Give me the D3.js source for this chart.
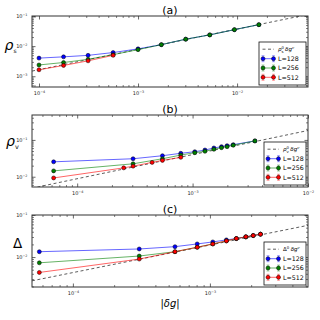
<!DOCTYPE html>
<html>
<head>
<meta charset="utf-8">
<script src="https://cdn.jsdelivr.net/npm/d3@7"></script>
<style>
  body { margin: 0; background: #fff; }
  svg { display: block; font-family: "DejaVu Sans", sans-serif; }
</style>
</head>
<body>
<div id="chart"></div>
<script>
// ---- data ----
// (a) superfluid density rho_s vs |dg|
var xA = [1.0e-4, 1.77e-4, 3.13e-4, 5.6e-4, 1.0e-3, 1.72e-3, 3.03e-3, 5.3e-3, 9.4e-3, 1.66e-2];
var rhoS128 = [4.0e-3, 4.41e-3, 4.94e-3, 6.12e-3, 8.11e-3, 1.12e-2, 1.70e-2, 2.36e-2, 3.52e-2, 5.15e-2];
var rhoS256 = [2.37e-3, 2.86e-3, 3.65e-3, 5.21e-3, 7.64e-3, 1.12e-2, 1.70e-2, 2.36e-2, 3.52e-2, 5.15e-2];
var rhoS512 = [1.64e-3, 2.28e-3, 3.25e-3, 4.94e-3];
var fitA = { amp: 0.823, nu: 0.674 };

// (b) rho_v vs |dg|
var xB = [6.25e-5, 3.05e-4, 5.48e-4, 7.9e-4, 1.045e-3, 1.28e-3, 1.53e-3, 1.78e-3, 1.99e-3, 2.25e-3, 3.47e-3];
var xBred = [6.25e-5, 2.53e-4, 3.05e-4, 4.46e-4, 5.48e-4, 7.9e-4];
var rhoV128 = [0.0254, 0.0308, 0.0372, 0.0433, 0.0478, 0.0532, 0.0604, 0.0655, 0.0698, 0.0743, 0.094];
var rhoV256 = [0.01442, 0.02244, 0.0308, 0.0388, 0.0449, 0.0490, 0.0556, 0.0615, 0.0655, 0.0716, 0.094];
var rhoV512 = [0.00927, 0.0174, 0.0194, 0.0245, 0.0278, 0.0336];
var fitB = { amp: 3.68, nu: 0.655 };

// (c) gap Delta vs |dg|
var xC = [5.69e-5, 3.05e-4, 5.56e-4, 8.08e-4, 1.05e-3, 1.32e-3, 1.56e-3, 1.83e-3, 2.07e-3, 2.34e-3];
var delta128 = [0.0134, 0.01556, 0.01766, 0.0205, 0.0229, 0.0256, 0.0275, 0.0302, 0.0324, 0.0350];
var delta256 = [0.0073, 0.01057, 0.0134, 0.0171, 0.0205, 0.0242, 0.0275, 0.0302, 0.0324, 0.0350];
var delta512 = [0.0043, 0.00895, 0.0134, 0.0171, 0.0205, 0.0242, 0.0275, 0.0302, 0.0324, 0.0350];
var fitC = { amp: 1.78, nu: 0.655 };

var seriesNames = ["L=128", "L=256", "L=512"];
var seriesColors = ["#0000ff", "#008000", "#ff0000"];

var plotLeft = 32, plotRight = 308;

var svg = d3.select("#chart")
    .append("svg")
    .attr("width", 320)
    .attr("height", 320);

function supLabel(sel) {
    // turn "10" tick text into 10^{n}
    sel.each(function (d) {
        d3.select(this).append("tspan")
            .attr("dy", -2)
            .attr("font-size", 3.4)
            .text("\u2212" + Math.abs(Math.round(Math.log10(d))));
    });
}

function drawPanel(p) {
    var x = d3.scaleLog().domain(p.xDomain).range([plotLeft, plotRight]);
    var y = d3.scaleLog().domain(p.yDomain).range([p.bottom, p.top]);
    var g = svg.append("g");

    svg.append("clipPath").attr("id", "clip" + p.id)
        .append("rect")
        .attr("x", plotLeft).attr("y", p.top)
        .attr("width", plotRight - plotLeft).attr("height", p.bottom - p.top);

    var minorX = x.ticks().filter(function (v) { return p.xTicks.indexOf(v) < 0; });
    var minorY = y.ticks().filter(function (v) { return p.yTicks.indexOf(v) < 0; });

    // ticks on all four sides, pointing inward
    var axes = [
        [d3.axisBottom(x), "translate(0," + p.bottom + ")", minorX, p.xTicks, true],
        [d3.axisTop(x), "translate(0," + p.top + ")", minorX, p.xTicks, false],
        [d3.axisLeft(y), "translate(" + plotLeft + ",0)", minorY, p.yTicks, true],
        [d3.axisRight(y), "translate(" + plotRight + ",0)", minorY, p.yTicks, false]
    ];
    axes.forEach(function (a) {
        g.append("g").attr("transform", a[1])
            .call(a[0].tickValues(a[2]).tickSize(-2).tickFormat(""))
            .call(function (s) { s.select(".domain").remove(); s.selectAll("text").remove(); })
            .selectAll("line").attr("stroke", "#000").attr("stroke-width", 0.5);
        var major = g.append("g").attr("transform", a[1])
            .call(a[0].tickValues(a[3]).tickSize(-3.5).tickPadding(a[4] ? 4.5 : 0)
                .tickFormat(function () { return a[4] ? "10" : ""; }))
            .attr("font-family", "DejaVu Sans")
            .attr("font-size", 5);
        major.select(".domain").remove();
        major.selectAll("line").attr("stroke", "#000").attr("stroke-width", 0.6);
        if (a[4]) major.selectAll("text").attr("fill", "#222").call(supLabel);
        else major.selectAll("text").remove();
    });

    // fit line
    var fitPts = p.xDomain.map(function (v) { return [v, p.fit.amp * Math.pow(v, p.fit.nu)]; });
    var line = d3.line()
        .x(function (d) { return x(d[0]); })
        .y(function (d) { return y(d[1]); });
    g.append("path").datum(fitPts)
        .attr("clip-path", "url(#clip" + p.id + ")")
        .attr("fill", "none")
        .attr("stroke", "#333")
        .attr("stroke-width", 0.8)
        .attr("stroke-dasharray", "3,2.5")
        .attr("d", line);

    p.series.forEach(function (s, k) {
        var pts = s.x.map(function (v, i) { return [v, s.y[i]]; });
        g.append("path").datum(pts)
            .attr("clip-path", "url(#clip" + p.id + ")")
            .attr("fill", "none")
            .attr("stroke", seriesColors[k])
            .attr("stroke-opacity", 0.6)
            .attr("stroke-width", 1)
            .attr("d", line);
        g.selectAll(null).data(pts).enter().append("circle")
            .attr("cx", function (d) { return x(d[0]); })
            .attr("cy", function (d) { return y(d[1]); })
            .attr("r", 2)
            .style("fill", seriesColors[k])
            .style("stroke", "#000")
            .style("stroke-width", 0.5);
    });

    // frame
    g.append("rect")
        .attr("x", plotLeft).attr("y", p.top)
        .attr("width", plotRight - plotLeft).attr("height", p.bottom - p.top)
        .attr("fill", "none").attr("stroke", "#333").attr("stroke-width", 1);

    // title
    g.append("text")
        .attr("x", (plotLeft + plotRight) / 2)
        .attr("y", p.top - 2.5)
        .attr("text-anchor", "middle")
        .attr("font-size", 11)
        .text(p.title);

    // legend
    var lg = g.append("g").attr("transform", "translate(" + p.legendX + "," + (p.bottom - 45) + ")");
    lg.append("rect")
        .attr("width", plotRight - 2 - p.legendX).attr("height", 43)
        .attr("fill", "#fff").attr("stroke", "#111").attr("stroke-width", 0.8);
    var rows = [7.2, 16.7, 26, 35.3];
    lg.append("line")
        .attr("x1", 3.5).attr("x2", 15).attr("y1", rows[0]).attr("y2", rows[0])
        .attr("stroke", "#333").attr("stroke-width", 0.8).attr("stroke-dasharray", "3,2.5");
    p.legendLabel(lg.append("text").attr("x", 19).attr("y", rows[0] + 2).attr("font-size", 5.5));
    seriesNames.forEach(function (name, k) {
        var ry = rows[k + 1];
        lg.append("line")
            .attr("x1", 4).attr("x2", 14.5).attr("y1", ry).attr("y2", ry)
            .attr("stroke", seriesColors[k]).attr("stroke-opacity", 0.6).attr("stroke-width", 1);
        [4, 14.5].forEach(function (mx) {
            lg.append("line").attr("x1", mx).attr("x2", mx).attr("y1", ry - 3).attr("y2", ry + 3)
                .attr("stroke", seriesColors[k]).attr("stroke-opacity", 0.45).attr("stroke-width", 0.8);
            [ry - 3, ry + 3].forEach(function (cy) {
                lg.append("line").attr("x1", mx - 1.5).attr("x2", mx + 1.5).attr("y1", cy).attr("y2", cy)
                    .attr("stroke", seriesColors[k]).attr("stroke-opacity", 0.45).attr("stroke-width", 0.8);
            });
            lg.append("circle").attr("cx", mx).attr("cy", ry).attr("r", 2)
                .style("fill", seriesColors[k]).style("stroke", "#000").style("stroke-width", 0.5);
        });
        lg.append("text").attr("x", 19).attr("y", ry + 2.3)
            .attr("font-size", 6.3).text(name);
    });

    p.yLabel(g);
}

function fitLabel(sym, italic, sub) {
    return function (t) {
        t.append("tspan").style("font-style", italic ? "italic" : "normal").text(sym);
        t.append("tspan").attr("font-size", 3.8).attr("dy", -2.4).text("0");
        if (sub) t.append("tspan").attr("font-size", 3.8).attr("dx", -2.3).attr("dy", 4).text(sub);
        t.append("tspan").style("font-style", "italic").attr("dx", 1.5).attr("dy", sub ? -1.6 : 2.4).text("\u03b4g");
        t.append("tspan").style("font-style", "italic").attr("font-size", 3.8).attr("dy", -2.4).text("\u03bd");
    };
}

drawPanel({
    id: "a", title: "(a)", top: 16, bottom: 87,
    xDomain: [8.5e-5, 5.2e-2], yDomain: [4.4e-4, 0.1],
    xTicks: [1e-4, 1e-3, 1e-2], yTicks: [1e-3, 1e-2, 1e-1],
    fit: fitA, legendX: 259,
    legendLabel: fitLabel("\u03c1", true, "s"),
    series: [{ x: xA, y: rhoS128 }, { x: xA, y: rhoS256 }, { x: xA.slice(0, rhoS512.length), y: rhoS512 }],
    yLabel: function (g) {
        var t = g.append("text").attr("x", 4.5).attr("y", 50);
        t.append("tspan").attr("font-size", 14).style("font-style", "italic").text("\u03c1");
        t.append("tspan").attr("font-size", 6).attr("dy", 2.5).text("s");
    }
});

drawPanel({
    id: "b", title: "(b)", top: 115, bottom: 187,
    xDomain: [4.06e-5, 1e-2], yDomain: [5.26e-3, 0.475],
    xTicks: [1e-4, 1e-3, 1e-2], yTicks: [1e-2, 1e-1],
    fit: fitB, legendX: 264,
    legendLabel: fitLabel("\u03c1", true, "v"),
    series: [{ x: xB, y: rhoV128 }, { x: xB, y: rhoV256 }, { x: xBred, y: rhoV512 }],
    yLabel: function (g) {
        var t = g.append("text").attr("x", 6).attr("y", 146);
        t.append("tspan").attr("font-size", 14).style("font-style", "italic").text("\u03c1");
        t.append("tspan").attr("font-size", 6.5).attr("dy", 2.5).text("v");
    }
});

drawPanel({
    id: "c", title: "(c)", top: 215, bottom: 287,
    xDomain: [5.03e-5, 5.2e-3], yDomain: [1.94e-3, 0.1],
    xTicks: [1e-4, 1e-3], yTicks: [1e-2, 1e-1],
    fit: fitC, legendX: 264,
    legendLabel: fitLabel("\u0394", false, null),
    series: [{ x: xC, y: delta128 }, { x: xC, y: delta256 }, { x: xC, y: delta512 }],
    yLabel: function (g) {
        g.append("text").attr("x", 13).attr("y", 247.7).attr("font-size", 13.5).text("\u0394");
    }
});

// x label under the bottom panel
var xl = svg.append("text").attr("x", 170).attr("y", 306.5).attr("text-anchor", "middle").attr("font-size", 10);
xl.append("tspan").text("|");
xl.append("tspan").style("font-style", "italic").text("\u03b4g");
xl.append("tspan").text("|");
</script>
</body>
</html>
